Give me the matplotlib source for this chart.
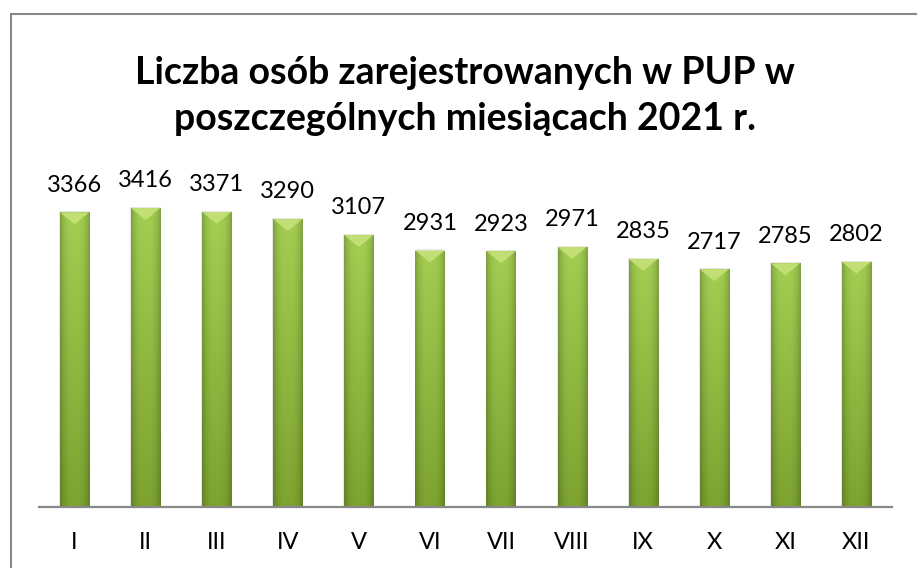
import matplotlib.pyplot as plt
import numpy as np
from matplotlib.patches import Rectangle, Polygon

months = ['I', 'II', 'III', 'IV', 'V', 'VI', 'VII', 'VIII', 'IX', 'X', 'XI', 'XII']
counts = [3366, 3416, 3371, 3290, 3107, 2931, 2923, 2971, 2835, 2717, 2785, 2802]

title = 'Liczba osób zarejestrowanych w PUP w\nposzczególnych miesiącach 2021 r.'

plt.rcParams['font.family'] = ['Lato', 'DejaVu Sans']

fig = plt.figure(figsize=(9.17, 5.68), dpi=100)
ax = fig.add_axes([0.0425, 0.1074, 0.9302, 0.6162])

x = np.arange(len(months))
ymax = 4000
bars = ax.bar(x, counts, width=0.41, color='none', edgecolor='none', zorder=2)

# gradient fill: lighter at the top, darker at the bottom and edges
top_c = np.array([0.64, 0.81, 0.32])
bot_c = np.array([0.49, 0.64, 0.19])
ny, nx = 200, 40
t = np.linspace(0, 1, ny)[:, None, None]
col = top_c * (1 - t) + bot_c * t
u = np.linspace(-1, 1, nx)[None, :, None]
shade = 1 - 0.22 * np.abs(u) ** 3
img = np.clip(col * shade, 0, 1)

bevel = 0.034 * ymax
for b in bars:
    x0, w, h = b.get_x(), b.get_width(), b.get_height()
    # soft shadow
    ax.add_patch(Rectangle((x0 - 0.012, 0), w + 0.024, h + 12, color='#d8d8d8',
                           alpha=0.6, zorder=1, lw=0))
    im = ax.imshow(img, extent=(x0, x0 + w, 0, h), aspect='auto', zorder=2,
                   origin='upper')
    im.set_clip_path(b)
    ax.add_patch(Polygon([(x0, h), (x0 + w, h), (x0 + w * 0.5, h - bevel)],
                         closed=True, color='#c6e27a', lw=0, zorder=3, alpha=0.9))
    ax.annotate(str(int(h)), (x0 + w / 2, h), xytext=(0, 12), textcoords='offset points',
                ha='center', va='bottom', fontsize=17, color='black')

ax.set_xlim(-0.5, len(months) - 0.5)
ax.set_ylim(0, ymax)
ax.set_xticks(x)
ax.set_xticklabels(months, fontsize=17)
ax.tick_params(axis='x', length=0, pad=18)
ax.set_yticks([])
for s in ['top', 'right', 'left']:
    ax.spines[s].set_visible(False)
ax.spines['bottom'].set_color('#888888')
ax.spines['bottom'].set_linewidth(1.6)
ax.spines['bottom'].set_zorder(4)

fig.text(0.507, 0.831, title, ha='center', va='center', fontsize=27,
         fontweight='bold', linespacing=1.42)

# chart border (only top and left visible inside the image)
fig.patches.append(Rectangle((10.5 / 917, -0.1), 1.2, (568 - 13.5) / 568 + 0.1,
                             transform=fig.transFigure, fill=False,
                             edgecolor='#888888', lw=1.5))

fig.savefig('out.png', dpi=100)
